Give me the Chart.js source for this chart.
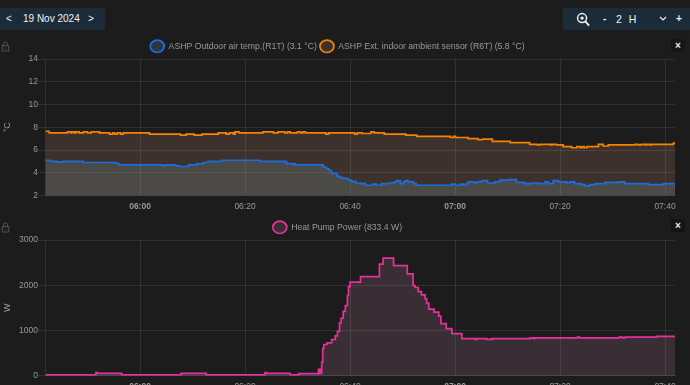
<!DOCTYPE html>
<html lang="en">
<head>
  <meta charset="UTF-8">
  <title>Heat pump</title>
  <script src="https://cdn.jsdelivr.net/npm/chart.js"></script>
  <style>
    html, body { margin: 0; padding: 0; background: #1c1c1c; overflow: hidden; width: 690px; height: 385px; font-family: "Liberation Sans", Arial, sans-serif; }
    .panel { position: absolute; top: 8px; height: 22px; background: #1b2b38; color: #f2f2f2; font-size: 10px; line-height: 22px; }
    .panel span, .panel svg { position: absolute; }
    .box { position: absolute; }
    .close { position: absolute; left: 671px; width: 14px; height: 13px; background: #151515; color: #eee; font-size: 10px; font-weight: bold; line-height: 13px; text-align: center; }
    .lock { position: absolute; left: 1px; }
  </style>
</head>
<body>
  <div class="panel" style="left:0;width:105px">
    <span style="left:6px">&lt;</span>
    <span style="left:23px">19 Nov 2024</span>
    <span style="left:88px">&gt;</span>
  </div>
  <div class="panel" style="left:563px;width:127px">
    <svg style="left:13px;top:4px" width="14" height="15" viewBox="0 0 15 16"><circle cx="6.5" cy="6.5" r="4.8" fill="none" stroke="#f2f2f2" stroke-width="1.6"/><circle cx="6.5" cy="6.5" r="1.8" fill="#f2f2f2"/><path d="M10 10l4 4.5" stroke="#f2f2f2" stroke-width="2"/></svg>
    <span style="left:40px;font-weight:bold">-</span>
    <span style="left:53px;letter-spacing:2px;font-size:10.5px">2 H</span>
    <svg style="left:96px;top:8px" width="8" height="6" viewBox="0 0 8 6"><path d="M1 1l3 3 3-3" fill="none" stroke="#eee" stroke-width="1.2"/></svg>
    <span style="left:113px;font-weight:bold">+</span>
  </div>

  <svg class="lock" style="top:41px" width="9" height="11" viewBox="0 0 11 13"><path d="M3 6V3.5a2.5 2.5 0 0 1 5 0V6" fill="none" stroke="#5c5c5c" stroke-width="1"/><rect x="1.5" y="5.5" width="8" height="6.5" fill="none" stroke="#5c5c5c" stroke-width="1"/><rect x="5" y="8" width="1.2" height="1.2" fill="#5c5c5c"/></svg>
  <svg class="lock" style="top:222px" width="9" height="11" viewBox="0 0 11 13"><path d="M3 6V3.5a2.5 2.5 0 0 1 5 0V6" fill="none" stroke="#5c5c5c" stroke-width="1"/><rect x="1.5" y="5.5" width="8" height="6.5" fill="none" stroke="#5c5c5c" stroke-width="1"/><rect x="5" y="8" width="1.2" height="1.2" fill="#5c5c5c"/></svg>
  <div class="close" style="top:39px">&times;</div>
  <div class="close" style="top:219px">&times;</div>

  <div class="box" style="left:0;top:39px;width:690px;height:173px"><canvas id="tempChart"></canvas></div>
  <div class="box" style="left:0;top:220px;width:690px;height:175px"><canvas id="powerChart"></canvas></div>

  <script>
    // all times are minutes since midnight
    const xMin = 341.9;
    const xMax = 461.9;
    const tickTimes = [360, 380, 400, 420, 440, 460];
    const tempTicks = [2, 4, 6, 8, 10, 12, 14];
    const powerTicks = [0, 1000, 2000, 3000];

    const r1tName = 'ASHP Outdoor air temp.(R1T) (3.1 °C)';
    const r1tTimes = [342.0,342.9,344.1,345.4,349.2,355.2,355.9,364.4,364.9,366.8,367.6,369.2,370.8,372.1,373.0,375.7,382.9,387.9,389.5,394.9,395.5,396.0,396.5,397.5,398.0,398.5,399.6,400.3,401.1,402.1,403.0,404.4,405.1,406.0,407.4,408.4,408.9,409.6,410.2,410.6,411.1,412.1,412.6,419.4,420.1,421.0,421.6,422.1,422.5,423.6,424.1,425.1,426.2,427.6,428.6,430.2,431.7,433.3,434.6,435.9,437.1,437.8,438.7,439.7,441.3,441.9,442.8,444.1,444.8,445.7,446.7,448.6,451.1,452.3,456.8,459.7,461.9];
    const r1tValues = [5.1,5.0,4.95,5.0,4.9,4.85,4.7,4.6,4.7,4.6,4.55,4.7,4.8,4.9,5.0,5.1,5.0,4.8,4.7,4.5,4.35,4.2,3.95,3.7,3.6,3.5,3.35,3.25,3.1,3.05,2.9,3.0,2.9,3.05,3.1,3.2,3.3,3.05,3.2,3.3,3.2,3.05,2.9,3.0,2.9,3.0,2.9,3.05,3.2,3.1,3.2,3.3,3.1,3.2,3.35,3.4,3.15,3.05,3.1,3.05,3.2,3.05,3.3,3.2,3.1,3.2,3.05,2.95,2.85,2.95,3.05,3.15,3.2,3.05,2.95,3.05,3.05];

    const r6tName = 'ASHP Ext. indoor ambient sensor (R6T) (5.8 °C)';
    const r6tTimes = [342.0,342.7,346.2,346.8,347.0,347.5,347.8,348.4,349.2,350.0,350.7,352.3,354.2,354.8,355.2,355.7,356.3,356.8,361.8,367.7,368.8,370.3,371.8,374.9,376.4,377.0,377.8,378.1,378.9,383.4,385.4,386.3,387.6,388.1,388.6,390.0,390.6,391.0,391.5,395.4,395.9,400.9,401.4,402.3,404.0,404.6,406.5,410.6,412.7,419.1,419.7,420.1,422.5,424.4,425.2,427.1,430.5,434.2,435.7,436.2,438.2,438.5,439.3,440.6,442.2,443.2,443.8,444.2,444.6,445.1,447.3,448.2,449.2,454.3,454.9,455.5,456.2,456.5,457.1,457.5,461.6,461.9];
    const r6tValues = [7.65,7.5,7.6,7.5,7.6,7.5,7.6,7.5,7.6,7.5,7.6,7.5,7.4,7.5,7.4,7.5,7.4,7.5,7.4,7.3,7.4,7.3,7.4,7.5,7.4,7.5,7.4,7.6,7.5,7.6,7.5,7.6,7.5,7.6,7.5,7.6,7.5,7.6,7.5,7.4,7.5,7.4,7.5,7.45,7.6,7.5,7.4,7.3,7.2,7.1,7.2,7.1,7.0,6.9,6.95,6.75,6.65,6.5,6.45,6.5,6.45,6.5,6.45,6.3,6.2,6.3,6.2,6.3,6.2,6.3,6.5,6.35,6.45,6.5,6.45,6.5,6.45,6.5,6.45,6.5,6.6,6.6];

    const powerName = 'Heat Pump Power (833.4 W)';
    const powerTimes = [342.0,351.6,351.9,356.5,367.8,372.6,383.8,384.1,388.6,390.2,394.0,394.3,394.6,394.8,395.0,395.6,396.5,397.2,397.6,398.0,398.3,398.7,399.1,399.5,399.7,400.0,402.0,405.6,406.3,408.3,410.9,412.0,412.4,413.0,413.6,414.3,414.6,415.0,416.0,416.9,417.3,418.3,419.4,421.3,423.8,424.1,426.0,427.0,434.3,434.9,435.2,443.3,443.7,451.3,451.9,452.4,458.4,461.9];
    const powerValues = [20,70,50,20,50,20,70,50,20,45,140,50,300,600,690,725,800,880,980,1170,1270,1420,1550,1770,1970,2070,2190,2465,2600,2435,2250,1990,1950,1860,1785,1700,1600,1470,1405,1315,1150,1040,930,820,805,820,805,820,835,820,835,855,835,855,835,855,870,870];

    const r1tLine = '#1a6fe0';
    const r1tFill = 'rgba(161,217,225,0.15)';
    const r6tLine = '#f58200';
    const r6tFill = 'rgba(248,175,141,0.15)';
    const powerLine = '#e8309a';
    const powerFill = 'rgba(228,155,188,0.15)';

    const textColor = '#999';
    const gridColor = 'rgba(255,255,255,0.09)';
    const fontFamily = '"Liberation Sans", Arial, sans-serif';
    const tickSize = 8.5;

    // the legend leaves a bigger gap under it than the original, take a bit off
    const legendTrim = {
      id: 'legendTrim',
      beforeLayout(chart) {
        const legend = chart.legend;
        if (legend && !legend.trimmed) {
          const fit = legend.fit;
          legend.fit = function () {
            fit.call(this);
            this.height -= 1.7;
          };
          legend.trimmed = true;
        }
      }
    };

    function toPoints(times, values) {
      return times.map((t, i) => ({ x: t, y: values[i] }));
    }

    function formatTime(v) {
      const h = Math.floor(v / 60);
      const m = v % 60;
      return String(h).padStart(2, '0') + ':' + String(m).padStart(2, '0');
    }

    function lineDataset(label, times, values, line, fill) {
      return {
        label: label,
        data: toPoints(times, values),
        borderColor: line,
        backgroundColor: fill,
        borderWidth: 1.7,
        pointRadius: 0,
        stepped: true,
        fill: 'origin'
      };
    }

    function makeOptions(yTicks, yTitle, xHeight) {
      return {
        responsive: true,
        maintainAspectRatio: false,
        animation: false,
        layout: { padding: { right: 15 } },
        plugins: {
          legend: {
            labels: {
              usePointStyle: true,
              pointStyle: 'circle',
              boxHeight: 10,
              pointStyleWidth: 14,
              padding: 3,
              color: textColor,
              font: { family: fontFamily, size: 8.7 }
            }
          },
          tooltip: { enabled: false }
        },
        scales: {
          x: {
            type: 'linear',
            min: xMin,
            max: xMax,
            afterBuildTicks: scale => { scale.ticks = tickTimes.map(v => ({ value: v })); },
            afterFit: scale => { scale.height = xHeight; },
            grid: { color: gridColor, drawTicks: false },
            border: { color: gridColor },
            ticks: {
              autoSkip: false,
              maxRotation: 0,
              padding: 6,
              color: textColor,
              callback: v => formatTime(v),
              font: ctx => ({
                family: fontFamily,
                size: tickSize,
                weight: ctx.tick && ctx.tick.value % 60 === 0 ? 'bold' : 'normal'
              })
            }
          },
          y: {
            min: yTicks[0],
            max: yTicks[yTicks.length - 1],
            afterBuildTicks: scale => { scale.ticks = yTicks.map(v => ({ value: v })); },
            afterFit: scale => { scale.width = 45; },
            grid: { color: gridColor, tickLength: 7 },
            border: { color: gridColor },
            title: { display: true, text: yTitle, color: textColor, padding: { top: 2, bottom: 0 }, font: { family: fontFamily, size: 9 } },
            ticks: { padding: 0, color: textColor, callback: v => String(v), font: { family: fontFamily, size: tickSize } }
          }
        }
      };
    }

    new Chart(document.getElementById('tempChart'), {
      type: 'line',
      data: {
        datasets: [
          lineDataset(r1tName, r1tTimes, r1tValues, r1tLine, r1tFill),
          lineDataset(r6tName, r6tTimes, r6tValues, r6tLine, r6tFill)
        ]
      },
      options: makeOptions(tempTicks, '°C', 16.5),
      plugins: [legendTrim]
    });

    new Chart(document.getElementById('powerChart'), {
      type: 'line',
      data: {
        datasets: [lineDataset(powerName, powerTimes, powerValues, powerLine, powerFill)]
      },
      options: makeOptions(powerTicks, 'W', 19.3),
      plugins: [legendTrim]
    });
  </script>
</body>
</html>
